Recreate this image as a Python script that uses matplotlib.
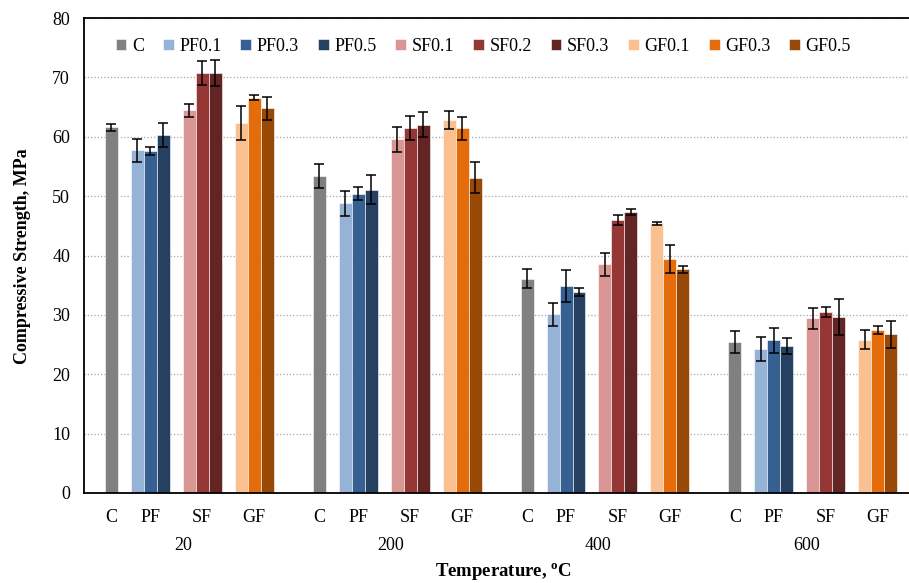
import numpy as np
import matplotlib.pyplot as plt
import matplotlib.transforms as mtransforms

plt.rcParams['font.family'] = ['Liberation Serif', 'DejaVu Serif']

# Data
temperatures = ['20', '200', '400', '600']
series = ['C', 'PF0.1', 'PF0.3', 'PF0.5', 'SF0.1', 'SF0.2', 'SF0.3', 'GF0.1', 'GF0.3', 'GF0.5']
fibre_types = ['C', 'PF', 'SF', 'GF']

C_mean = [61.6, 53.4, 36.1, 25.4]
C_err = [0.6, 2.1, 1.6, 1.9]
PF01_mean = [57.7, 48.8, 30.1, 24.3]
PF01_err = [2.0, 2.1, 1.9, 2.0]
PF03_mean = [57.6, 50.4, 34.8, 25.7]
PF03_err = [0.6, 1.1, 2.7, 2.1]
PF05_mean = [60.3, 51.1, 33.8, 24.7]
PF05_err = [2.0, 2.4, 0.7, 1.35]
SF01_mean = [64.5, 59.6, 38.5, 29.4]
SF01_err = [1.1, 2.1, 1.9, 1.8]
SF02_mean = [70.8, 61.5, 46.0, 30.5]
SF02_err = [2.0, 2.0, 0.8, 0.9]
SF03_mean = [70.8, 62.0, 47.3, 29.6]
SF03_err = [2.2, 2.1, 0.5, 3.0]
GF01_mean = [62.3, 62.8, 45.4, 25.8]
GF01_err = [2.9, 1.5, 0.3, 1.6]
GF03_mean = [66.6, 61.4, 39.4, 27.4]
GF03_err = [0.4, 1.9, 2.3, 0.7]
GF05_mean = [64.8, 53.1, 37.7, 26.7]
GF05_err = [1.9, 2.6, 0.6, 2.2]

means = [C_mean, PF01_mean, PF03_mean, PF05_mean, SF01_mean, SF02_mean, SF03_mean,
         GF01_mean, GF03_mean, GF05_mean]
errs = [C_err, PF01_err, PF03_err, PF05_err, SF01_err, SF02_err, SF03_err,
        GF01_err, GF03_err, GF05_err]
colors = ['#808080', '#95B3D7', '#376092', '#254061', '#DA9694', '#953735', '#632523',
          '#FAC090', '#E46C0A', '#984807']

# layout in bar-width units
type_center = {'C': 0, 'PF': 3, 'SF': 7, 'GF': 11}
group_step = 16
series_type = ['C', 'PF', 'PF', 'PF', 'SF', 'SF', 'SF', 'GF', 'GF', 'GF']
series_slot = [0, -1, 0, 1, -1, 0, 1, -1, 0, 1]

fig = plt.figure(figsize=(9.09, 5.83), dpi=100)
ax = fig.add_axes([0.0924, 0.1544, 0.9076, 0.8146])

base = np.arange(len(temperatures)) * group_step
for i, name in enumerate(series):
    x = base + type_center[series_type[i]] + series_slot[i]
    ax.bar(x, means[i], width=1.0, color=colors[i], edgecolor='#ffffff', linewidth=0.4,
           label=name, zorder=2)
    ax.errorbar(x, means[i], yerr=errs[i], fmt='none', ecolor='black', elinewidth=1.1,
                capsize=3.5, capthick=1.1, zorder=3)

ax.set_ylim(0, 80)
ax.set_yticks(np.arange(0, 81, 10))
ax.set_xlim(-2.1, 61.4)
ax.yaxis.grid(True, linestyle=':', color='#a6a6a6', linewidth=0.9, zorder=0)
ax.set_axisbelow(True)
ax.tick_params(axis='y', length=0, labelsize=13, pad=10)
ax.set_xticks([])
for s in ['left', 'top', 'bottom']:
    ax.spines[s].set_linewidth(1.3)
ax.spines['right'].set_visible(False)

trans = mtransforms.blended_transform_factory(ax.transData, fig.transFigure)
for g, temp in enumerate(temperatures):
    for ft in fibre_types:
        ax.text(base[g] + type_center[ft], 1 - 517 / 583, ft, transform=trans,
                ha='center', va='center', fontsize=13)
    ax.text(base[g] + 5.5, 1 - 545 / 583, temp, transform=trans,
            ha='center', va='center', fontsize=13)

fig.text(0.554, 1 - 572 / 583, 'Temperature, $\\mathregular{^{o}}$C', ha='center', va='center',
         fontsize=13.5, fontweight='bold')
fig.text(0.025, 0.56, 'Compressive Strength, MPa', rotation=90, ha='center', va='center',
         fontsize=13, fontweight='bold')

ax.legend(loc='upper left', bbox_to_anchor=(0.023, 0.985), ncol=10, frameon=False,
          fontsize=13, handlelength=0.6, handleheight=0.6, handletextpad=0.3,
          columnspacing=1.05, borderaxespad=0.3)

fig.savefig('out.png', dpi=100)
